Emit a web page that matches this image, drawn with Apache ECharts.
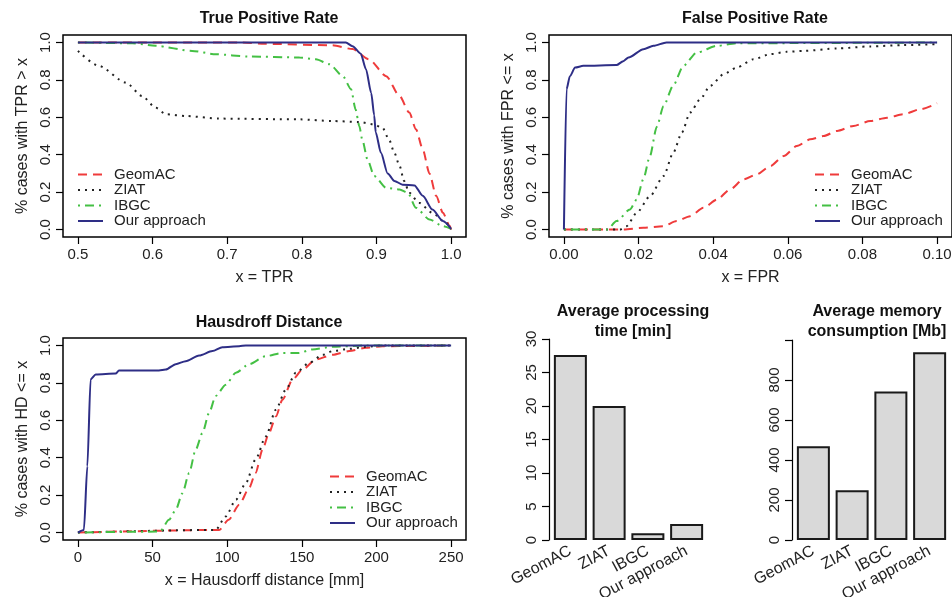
<!DOCTYPE html>
<html><head><meta charset="utf-8">
<script src="https://cdn.jsdelivr.net/npm/echarts@6/dist/echarts.min.js"></script>
<style>html,body{margin:0;padding:0;background:#fff}#c{width:952px;height:597px}</style>
</head><body><div id="c"></div>
<script>
// ---------- data ----------
const methods = ['GeomAC', 'ZIAT', 'IBGC', 'Our approach'];

// True Positive Rate: % cases with TPR > x
const tprGeomAC = [[0.5,1.0],[0.72,1.0],[0.75,0.993],[0.84,0.985],[0.868,0.965],[0.89,0.91],[0.913,0.82],[0.931,0.714],[0.944,0.625],[0.953,0.536],[0.962,0.43],[0.971,0.30],[0.98,0.18],[0.989,0.09],[0.998,0.02],[1.0,0.0]];
const tprZIAT = [[0.5,0.955],[0.528,0.875],[0.564,0.786],[0.586,0.714],[0.604,0.652],[0.618,0.616],[0.644,0.607],[0.689,0.593],[0.797,0.589],[0.841,0.58],[0.877,0.575],[0.895,0.563],[0.908,0.545],[0.917,0.48],[0.924,0.41],[0.931,0.34],[0.937,0.26],[0.944,0.196],[0.957,0.143],[0.975,0.089],[0.993,0.036],[1.0,0.0]];
const tprIBGC = [[0.5,1.0],[0.573,0.996],[0.604,0.982],[0.653,0.955],[0.685,0.937],[0.729,0.925],[0.797,0.92],[0.819,0.91],[0.837,0.884],[0.855,0.82],[0.866,0.75],[0.872,0.643],[0.877,0.554],[0.881,0.48],[0.888,0.375],[0.897,0.286],[0.913,0.223],[0.931,0.214],[0.942,0.196],[0.953,0.116],[0.971,0.054],[0.989,0.018],[1.0,0.004]];
const tprOur = [[0.5,1.0],[0.859,1.0],[0.868,0.98],[0.879,0.94],[0.886,0.857],[0.893,0.73],[0.897,0.61],[0.899,0.52],[0.906,0.41],[0.915,0.30],[0.924,0.26],[0.935,0.24],[0.951,0.236],[0.962,0.18],[0.975,0.107],[0.989,0.045],[1.0,0.004]];

// False Positive Rate: % cases with FPR <= x
const fprGeomAC = [[0,0],[0.0159,0],[0.0213,0.009],[0.0267,0.018],[0.0302,0.045],[0.0338,0.071],[0.0374,0.116],[0.041,0.16],[0.0445,0.214],[0.0481,0.268],[0.0517,0.295],[0.0553,0.339],[0.0589,0.393],[0.0624,0.446],[0.066,0.482],[0.0696,0.5],[0.0732,0.527],[0.0776,0.554],[0.0821,0.58],[0.0866,0.598],[0.091,0.616],[0.0955,0.643],[0.1,0.675]];
const fprZIAT = [[0,0],[0.015,0],[0.0168,0.018],[0.0195,0.089],[0.0231,0.179],[0.0267,0.286],[0.0293,0.41],[0.0316,0.518],[0.0338,0.625],[0.0365,0.696],[0.0392,0.768],[0.0428,0.83],[0.0463,0.866],[0.0508,0.91],[0.0553,0.9375],[0.0597,0.95],[0.0642,0.955],[0.0732,0.968],[0.0821,0.979],[0.091,0.986],[0.1,0.991]];
const fprIBGC = [[0,0],[0.0116,0],[0.0141,0.045],[0.0177,0.107],[0.0195,0.16],[0.0213,0.27],[0.023,0.39],[0.0249,0.55],[0.0267,0.66],[0.0293,0.77],[0.032,0.875],[0.0356,0.946],[0.041,0.982],[0.0463,0.996],[0.1,1.0]];
const fprOur = [[0,0],[0.0007,0.75],[0.0016,0.82],[0.003,0.866],[0.0052,0.875],[0.0141,0.879],[0.0159,0.9],[0.0173,0.92],[0.0213,0.964],[0.024,0.982],[0.0275,1.0],[0.1,1.0]];

// Hausdorff distance: % cases with HD <= x
const hdGeomAC = [[0,0],[94.6,0.014],[101,0.068],[108,0.148],[114.7,0.2375],[119,0.318],[123.7,0.443],[128,0.532],[132.6,0.62],[137,0.71],[143.8,0.818],[150.5,0.871],[159.4,0.925],[170.6,0.95],[181.8,0.97],[193,0.9875],[204,0.996],[250,1.0]];
const hdZIAT = [[0,0],[92.3,0.014],[99,0.086],[105.8,0.175],[112.5,0.264],[119,0.39],[125.9,0.514],[132.6,0.657],[139.3,0.764],[146,0.854],[155,0.907],[164,0.95],[170.6,0.97],[181.8,0.982],[193,0.993],[204,1.0],[250,1.0]];
const hdIBGC = [[0,0],[55,0.005],[61,0.068],[65.5,0.12],[70,0.21],[74.5,0.318],[78.9,0.443],[83.4,0.532],[87.9,0.64],[92.3,0.73],[99,0.79],[105.8,0.854],[114.7,0.9],[125.9,0.943],[137,0.96],[148,0.96],[157,0.979],[170.6,0.993],[193,1.0],[250,1.0]];
const hdOur = [[0,0],[4,0.014],[6.3,0.354],[8.5,0.82],[11.9,0.845],[25.3,0.85],[27.5,0.866],[54.3,0.866],[58.8,0.871],[65.5,0.9],[72.2,0.916],[81.2,0.946],[90.1,0.97],[96.8,0.991],[108,0.996],[112.5,1.0],[250,1.0]];

// bar charts
const timeValues = [27.6, 20.0, 1.0, 2.4];       // minutes
const memoryValues = [469, 249, 743, 939];       // Mb

// tick labels
const tprTicks = [0.5, 0.6, 0.7, 0.8, 0.9, 1.0];
const fprTicks = [0.00, 0.02, 0.04, 0.06, 0.08, 0.10];
const hdTicks = [0, 50, 100, 150, 200, 250];
const pctTicks = [0.0, 0.2, 0.4, 0.6, 0.8, 1.0];
const timeTicks = [0, 5, 10, 15, 20, 25, 30];
const memTickMarks = [0, 200, 400, 600, 800, 1000];
const memTickLabels = [0, 200, 400, 600, 800];

// ---------- styles ----------
const FONT = "'Liberation Sans', Arial, Helvetica, sans-serif";
const styles = {
  'GeomAC':       {color: '#ef3b3b', type: [9, 6]},
  'ZIAT':         {color: '#222222', type: [2, 5]},
  'IBGC':         {color: '#44c044', type: [2, 5, 9, 5]},
  'Our approach': {color: '#2e2e86', type: 'solid'}
};

function lineSeries(name, data, idx) {
  const s = styles[name];
  return {
    type: 'line', name, data, xAxisIndex: idx, yAxisIndex: idx,
    symbol: 'none', smooth: 0.25, smoothMonotone: 'x',
    lineStyle: {color: s.color, width: 2, type: s.type},
    itemStyle: {color: s.color}, z: name === 'Our approach' ? 5 : 3,
    animation: false
  };
}

function valueX(gi, min, max, ticks, dec, name) {
  return {
    type: 'value', gridIndex: gi, min, max,
    splitLine: {show: false}, axisLine: {show: false, onZero: false},
    axisTick: {show: true, length: 7, customValues: ticks, lineStyle: {color: '#000', width: 1.2}},
    axisLabel: {customValues: ticks, formatter: v => v.toFixed(dec), color: '#222', fontSize: 15, fontFamily: FONT, margin: 10},
    name, nameLocation: 'middle', nameGap: 33,
    nameTextStyle: {color: '#222', fontSize: 16, fontFamily: FONT}
  };
}
function valueY(gi, name) {
  return {
    type: 'value', gridIndex: gi, min: -0.04, max: 1.04,
    splitLine: {show: false}, axisLine: {show: false, onZero: false},
    axisTick: {show: true, length: 7, customValues: pctTicks, lineStyle: {color: '#000', width: 1.2}},
    axisLabel: {customValues: pctTicks, formatter: v => v.toFixed(1), rotate: 90, color: '#222', fontSize: 15, fontFamily: FONT, margin: 10},
    name, nameLocation: 'middle', nameGap: 32, nameRotate: 90,
    nameTextStyle: {color: '#222', fontSize: 16, fontFamily: FONT}
  };
}
function legendAt(left, top) {
  return {
    data: methods, orient: 'vertical', left, top, padding: 0,
    itemWidth: 25, itemHeight: 15, itemGap: 0.5,
    itemStyle: {opacity: 0},
    textStyle: {color: '#222', fontSize: 15, fontFamily: FONT, padding: [0, 0, 0, 6]},
    selectedMode: false
  };
}
function titleAt(text, x, y) {
  return {text, left: x, top: y, textAlign: 'center',
    textStyle: {fontSize: 16, fontWeight: 'bold', fontFamily: FONT, color: '#111', lineHeight: 20}};
}
function catX(gi) {
  return {
    type: 'category', gridIndex: gi, data: methods,
    axisLine: {show: false, onZero: false}, axisTick: {show: false},
    axisLabel: {rotate: 28, interval: 0, color: '#222', fontSize: 16, fontFamily: FONT, margin: 10}
  };
}
function gridAt(left, top, width, height, box) {
  const g = {left, top, width, height, containLabel: false, outerBoundsMode: 'none'};
  if (box) Object.assign(g, {show: true, borderColor: '#000', borderWidth: 1.5});
  return g;
}

const option = {
  animation: false,
  backgroundColor: '#fff',
  title: [
    titleAt('True Positive Rate', 264, 4),
    titleAt('False Positive Rate', 750, 4),
    titleAt('Hausdroff Distance', 264, 308),
    titleAt('Average processing\ntime [min]', 628, 297),
    titleAt('Average memory\nconsumption [Mb]', 872, 297)
  ],
  legend: [legendAt(77, 167), legendAt(814, 167), legendAt(329, 469)],
  grid: [
    gridAt(63, 35, 403, 202, true),
    gridAt(549, 35, 403, 202, true),
    gridAt(63, 338, 403, 202, true),
    gridAt(551, 339, 155, 201, false),
    gridAt(794, 340, 155, 200, false)
  ],
  xAxis: [
    valueX(0, 0.48, 1.02, tprTicks, 1, 'x = TPR'),
    valueX(1, -0.004, 0.104, fprTicks, 2, 'x = FPR'),
    valueX(2, -10, 260, hdTicks, 0, 'x = Hausdorff distance [mm]'),
    catX(3), catX(4)
  ],
  yAxis: [
    valueY(0, '% cases with TPR > x'),
    valueY(1, '% cases with FPR <= x'),
    valueY(2, '% cases with HD <= x'),
    {type: 'value', gridIndex: 3, min: 0, max: 30, interval: 5, offset: 2,
     splitLine: {show: false},
     axisLine: {show: true, onZero: false, lineStyle: {color: '#000', width: 1.2}},
     axisTick: {show: true, length: 7, lineStyle: {color: '#000', width: 1.2}},
     axisLabel: {customValues: timeTicks, rotate: 90, color: '#222', fontSize: 15, fontFamily: FONT, margin: 10}},
    {type: 'value', gridIndex: 4, min: 0, max: 1000, interval: 200, offset: 2,
     splitLine: {show: false},
     axisLine: {show: true, onZero: false, lineStyle: {color: '#000', width: 1.2}},
     axisTick: {show: true, length: 7, customValues: memTickMarks, lineStyle: {color: '#000', width: 1.2}},
     axisLabel: {customValues: memTickLabels, rotate: 90, color: '#222', fontSize: 15, fontFamily: FONT, margin: 10}}
  ],
  series: [
    lineSeries('GeomAC', tprGeomAC, 0), lineSeries('ZIAT', tprZIAT, 0),
    lineSeries('IBGC', tprIBGC, 0), lineSeries('Our approach', tprOur, 0),
    lineSeries('GeomAC', fprGeomAC, 1), lineSeries('ZIAT', fprZIAT, 1),
    lineSeries('IBGC', fprIBGC, 1), lineSeries('Our approach', fprOur, 1),
    lineSeries('GeomAC', hdGeomAC, 2), lineSeries('ZIAT', hdZIAT, 2),
    lineSeries('IBGC', hdIBGC, 2), lineSeries('Our approach', hdOur, 2),
    {type: 'bar', name: 'time', data: timeValues, xAxisIndex: 3, yAxisIndex: 3, barWidth: 33,
     itemStyle: {color: '#d9d9d9', borderColor: '#1a1a1a', borderWidth: 2}},
    {type: 'bar', name: 'memory', data: memoryValues, xAxisIndex: 4, yAxisIndex: 4, barWidth: 33,
     itemStyle: {color: '#d9d9d9', borderColor: '#1a1a1a', borderWidth: 2}}
  ]
};
const chart = echarts.init(document.getElementById('c'), null, {renderer: 'canvas'});
chart.setOption(option);
</script></body></html>
